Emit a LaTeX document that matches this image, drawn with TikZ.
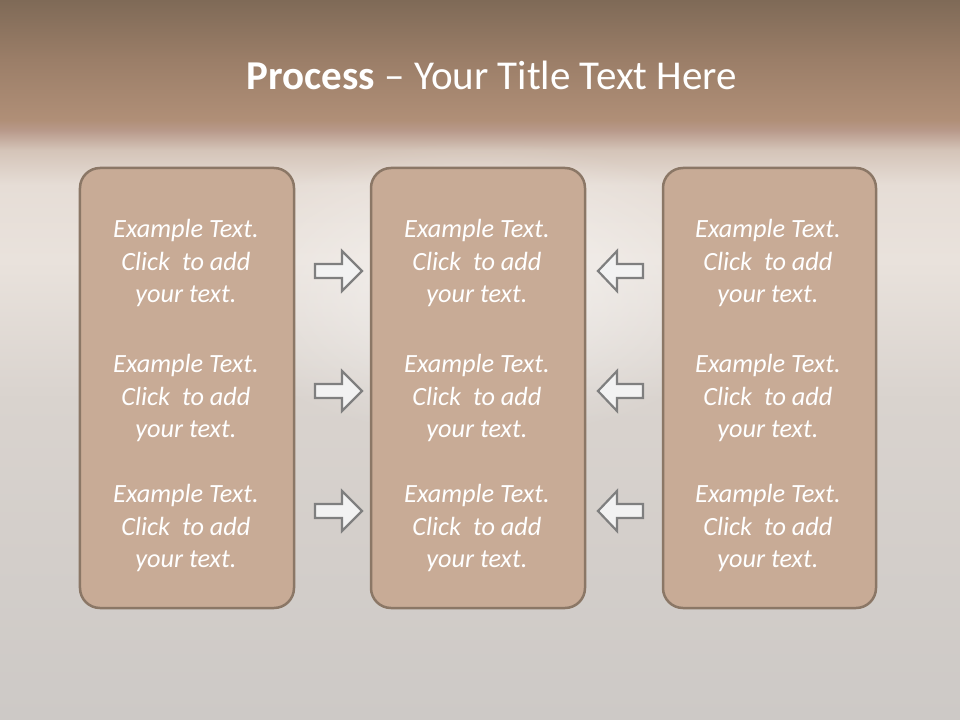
\documentclass[tikz,border=0pt]{standalone}
\usepackage{fontspec}
\setmainfont{Carlito}
\usetikzlibrary{calc,fadings}
\definecolor{boxfill}{HTML}{C8AB96}
\definecolor{boxline}{HTML}{8B7766}
\definecolor{arrfill}{HTML}{F2F2F2}
\definecolor{arrline}{HTML}{7F7F7F}
\definecolor{bgA}{HTML}{7F6A57}
\definecolor{bgB}{HTML}{9B7E68}
\definecolor{bgC}{HTML}{B08F77}
\definecolor{bgD}{HTML}{B8998A}
\definecolor{bgE}{HTML}{D4C4B8}
\definecolor{bgF}{HTML}{E6DDD6}
\definecolor{bgG}{HTML}{E9E2DC}
\definecolor{bgH}{HTML}{D9D3CE}
\definecolor{bgI}{HTML}{CDC9C6}
\pgfdeclareverticalshading{slidebg}{100bp}{%
  color(0bp)=(bgI); color(25bp)=(bgI); color(47.22bp)=(bgH);
  color(56.94bp)=(bgG); color(62.15bp)=(bgF); color(64.58bp)=(bgE);
  color(65.97bp)=(bgD); color(66.67bp)=(bgC); color(70.83bp)=(bgB);
  color(75bp)=(bgA); color(100bp)=(bgA)}
\tikzfading[name=glowfade, inner color=transparent!45, outer color=transparent!100]
\tikzset{
  panel/.style={draw=boxline, line width=2.5bp, fill=boxfill, rounded corners=20bp},
  bodytext/.style={text=white, align=center, font=\fontsize{26.3bp}{32.5bp}\selectfont\itshape},
  arrowshape/.style={draw=arrline, fill=arrfill, line width=2.2bp, line join=miter},
}
\begin{document}
\begin{tikzpicture}[x=1bp,y=-1bp]
\useasboundingbox (0,0) rectangle (960,720);
\shade[shading=slidebg] (0,0) rectangle (960,720);
\fill[white, path fading=glowfade] (480,290) ellipse (280 and 150);
% title
\node[text=white, font=\fontsize{41bp}{48bp}\selectfont] (title) at (492,75.5)
  {\textbf{Process} -- Your Title Text Here};
% panels
\node[panel, minimum width=214bp, minimum height=440bp, inner sep=0] (p1) at (187,388) {};
\node[panel, minimum width=214bp, minimum height=440bp, inner sep=0] (p2) at (478,388) {};
\node[panel, minimum width=213bp, minimum height=440bp, inner sep=0] (p3) at (769.5,388) {};
% texts
\foreach \px/\pn in {186/1,477/2,768/3}{
  \foreach \ty/\tn in {263/a,398/b,528/c}{
    \node[bodytext] (t\pn\tn) at (\px,\ty) {Example Text.\\Click~~to add\\your text.};
  }
}
% arrows
\foreach \ay/\an in {271/a,391/b,511/c}{
  \coordinate (ra\an) at (338,\ay);
  \draw[arrowshape] ($(ra\an)+(-23,-7)$) -- ($(ra\an)+(4,-7)$) -- ($(ra\an)+(4,-20)$)
    -- ($(ra\an)+(24,0)$) -- ($(ra\an)+(4,20)$) -- ($(ra\an)+(4,7)$)
    -- ($(ra\an)+(-23,7)$) -- cycle;
  \coordinate (la\an) at (621,\ay);
  \draw[arrowshape] ($(la\an)+(22,-7)$) -- ($(la\an)+(-4,-7)$) -- ($(la\an)+(-4,-20)$)
    -- ($(la\an)+(-23,0)$) -- ($(la\an)+(-4,20)$) -- ($(la\an)+(-4,7)$)
    -- ($(la\an)+(22,7)$) -- cycle;
}
\end{tikzpicture}
\end{document}
